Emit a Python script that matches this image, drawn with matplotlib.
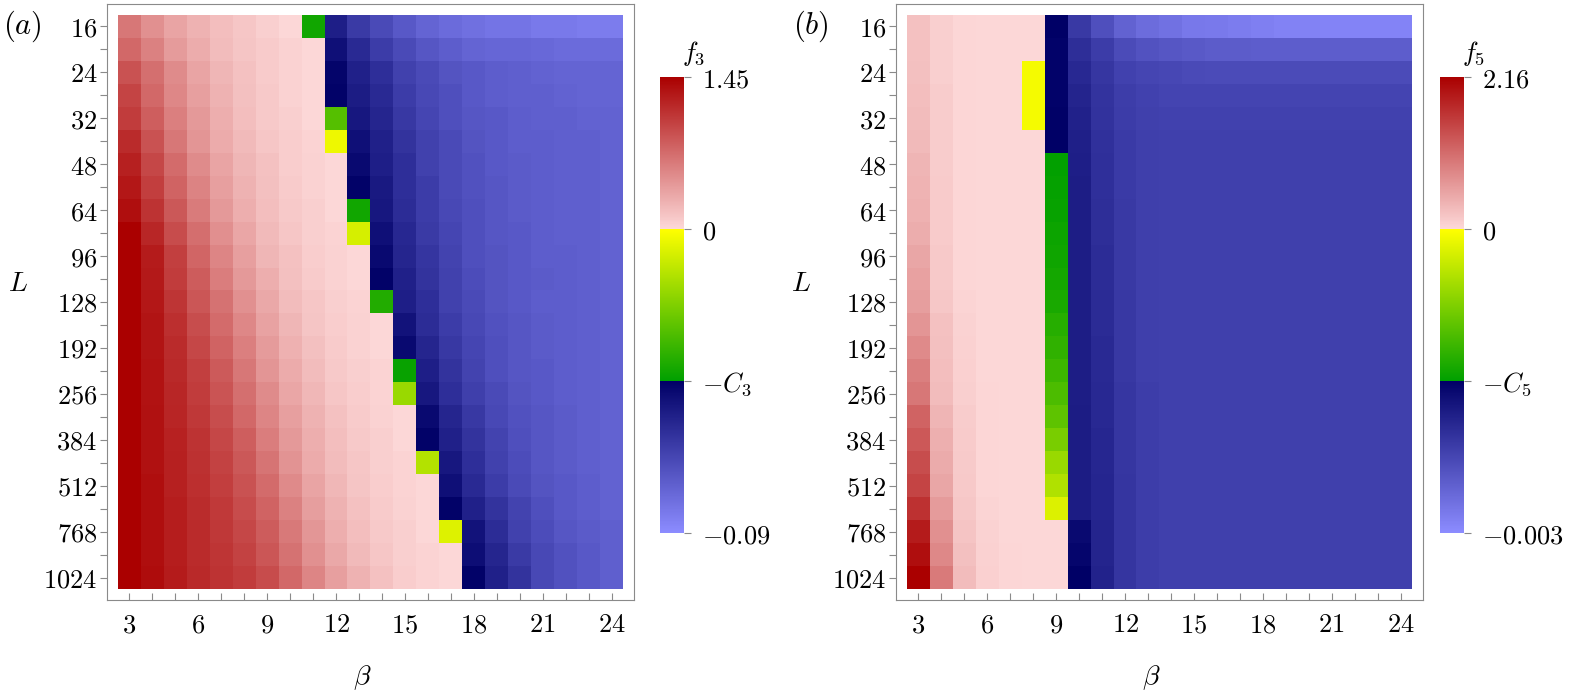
import numpy as np
import matplotlib
matplotlib.use("Agg")
import matplotlib.pyplot as plt
from matplotlib.colors import ListedColormap, FuncNorm, to_rgb

plt.rcParams['mathtext.fontset'] = 'cm'
plt.rcParams['font.family'] = 'DejaVu Serif'

# grid: beta along x, L along y (every row one L value)
beta = list(range(3, 25))
L_rows = [16, 20, 24, 28, 32, 40, 48, 56, 64, 80, 96, 112, 128,
          160, 192, 224, 256, 320, 384, 448, 512, 640, 768, 896, 1024]
L_labels = [16, 24, 32, 48, 64, 96, 128, 192, 256, 384, 512, 768, 1024]
beta_labels = [3, 6, 9, 12, 15, 18, 21, 24]

# colour scale limits (C3, C5 are only labels in the original)
f3_max, f3_min, C3 = 1.45, -0.09, 0.03
f5_max, f5_min, C5 = 2.16, -0.003, 0.001

f3 = [
    [0.65, 0.48, 0.35, 0.25, 0.17, 0.12, 0.06, 0.01, -0.028, -0.043, -0.055, -0.062, -0.068, -0.073, -0.076, -0.078, -0.080, -0.080, -0.082, -0.082, -0.083, -0.083],
    [0.75, 0.58, 0.41, 0.29, 0.19, 0.13, 0.09, 0.04, 0.01, -0.037, -0.048, -0.056, -0.062, -0.067, -0.070, -0.073, -0.074, -0.074, -0.075, -0.076, -0.076, -0.076],
    [0.90, 0.70, 0.51, 0.35, 0.23, 0.15, 0.09, 0.04, 0.01, -0.032, -0.044, -0.050, -0.058, -0.062, -0.066, -0.068, -0.070, -0.071, -0.072, -0.073, -0.073, -0.073],
    [0.99, 0.75, 0.54, 0.38, 0.25, 0.16, 0.10, 0.04, 0.01, -0.031, -0.042, -0.048, -0.056, -0.061, -0.064, -0.068, -0.070, -0.071, -0.071, -0.072, -0.073, -0.073],
    [1.04, 0.81, 0.59, 0.42, 0.28, 0.17, 0.10, 0.06, 0.01, -0.020, -0.040, -0.046, -0.054, -0.060, -0.064, -0.067, -0.068, -0.070, -0.071, -0.071, -0.072, -0.072],
    [1.16, 0.90, 0.65, 0.45, 0.30, 0.20, 0.12, 0.07, 0.03, -0.002, -0.037, -0.044, -0.052, -0.058, -0.062, -0.066, -0.068, -0.070, -0.070, -0.071, -0.071, -0.072],
    [1.23, 0.97, 0.73, 0.51, 0.35, 0.23, 0.15, 0.07, 0.04, 0.01, -0.034, -0.043, -0.050, -0.058, -0.062, -0.065, -0.068, -0.069, -0.070, -0.071, -0.071, -0.072],
    [1.29, 1.03, 0.78, 0.57, 0.38, 0.25, 0.16, 0.09, 0.04, 0.01, -0.031, -0.041, -0.050, -0.056, -0.062, -0.065, -0.067, -0.069, -0.070, -0.071, -0.071, -0.072],
    [1.35, 1.10, 0.86, 0.62, 0.42, 0.28, 0.17, 0.10, 0.06, 0.01, -0.028, -0.040, -0.049, -0.056, -0.061, -0.064, -0.067, -0.069, -0.070, -0.071, -0.071, -0.072],
    [1.45, 1.19, 0.94, 0.71, 0.49, 0.33, 0.20, 0.12, 0.06, 0.03, -0.005, -0.037, -0.047, -0.055, -0.060, -0.064, -0.067, -0.068, -0.070, -0.071, -0.071, -0.072],
    [1.45, 1.26, 1.02, 0.77, 0.55, 0.38, 0.23, 0.15, 0.07, 0.04, 0.01, -0.034, -0.046, -0.053, -0.059, -0.064, -0.066, -0.068, -0.070, -0.070, -0.071, -0.072],
    [1.45, 1.28, 1.04, 0.83, 0.61, 0.42, 0.28, 0.16, 0.09, 0.04, 0.01, -0.031, -0.044, -0.052, -0.058, -0.063, -0.066, -0.068, -0.069, -0.070, -0.071, -0.072],
    [1.45, 1.29, 1.09, 0.87, 0.68, 0.48, 0.32, 0.19, 0.12, 0.06, 0.03, -0.026, -0.043, -0.050, -0.058, -0.062, -0.066, -0.068, -0.070, -0.070, -0.071, -0.072],
    [1.45, 1.31, 1.13, 0.93, 0.73, 0.54, 0.36, 0.23, 0.13, 0.07, 0.04, 0.01, -0.038, -0.049, -0.056, -0.061, -0.065, -0.067, -0.069, -0.070, -0.071, -0.072],
    [1.45, 1.31, 1.16, 0.97, 0.78, 0.59, 0.41, 0.26, 0.16, 0.09, 0.04, 0.01, -0.034, -0.046, -0.054, -0.060, -0.064, -0.067, -0.069, -0.070, -0.071, -0.072],
    [1.45, 1.32, 1.17, 1.02, 0.84, 0.65, 0.45, 0.30, 0.19, 0.10, 0.06, 0.03, -0.029, -0.043, -0.052, -0.059, -0.064, -0.067, -0.068, -0.070, -0.071, -0.072],
    [1.45, 1.32, 1.19, 1.04, 0.88, 0.70, 0.51, 0.33, 0.22, 0.12, 0.07, 0.03, -0.012, -0.040, -0.050, -0.057, -0.062, -0.066, -0.068, -0.070, -0.071, -0.072],
    [1.45, 1.33, 1.20, 1.07, 0.93, 0.75, 0.55, 0.38, 0.25, 0.15, 0.09, 0.04, 0.01, -0.034, -0.046, -0.054, -0.061, -0.065, -0.067, -0.069, -0.071, -0.072],
    [1.45, 1.33, 1.22, 1.10, 0.97, 0.81, 0.61, 0.42, 0.28, 0.17, 0.10, 0.06, 0.01, -0.031, -0.044, -0.052, -0.059, -0.064, -0.067, -0.069, -0.071, -0.072],
    [1.45, 1.33, 1.23, 1.12, 1.00, 0.86, 0.67, 0.46, 0.30, 0.19, 0.12, 0.06, 0.03, -0.009, -0.040, -0.050, -0.058, -0.063, -0.067, -0.069, -0.071, -0.072],
    [1.45, 1.35, 1.23, 1.13, 1.03, 0.90, 0.73, 0.52, 0.35, 0.22, 0.13, 0.07, 0.03, 0.01, -0.037, -0.048, -0.056, -0.062, -0.066, -0.068, -0.070, -0.072],
    [1.45, 1.35, 1.25, 1.15, 1.06, 0.94, 0.78, 0.58, 0.39, 0.25, 0.15, 0.09, 0.04, 0.01, -0.031, -0.044, -0.052, -0.059, -0.064, -0.068, -0.070, -0.072],
    [1.45, 1.35, 1.25, 1.16, 1.07, 0.97, 0.83, 0.64, 0.44, 0.28, 0.17, 0.10, 0.06, 0.01, -0.004, -0.038, -0.049, -0.058, -0.063, -0.067, -0.069, -0.071],
    [1.45, 1.35, 1.25, 1.16, 1.09, 1.00, 0.87, 0.68, 0.48, 0.32, 0.20, 0.12, 0.06, 0.03, 0.01, -0.036, -0.046, -0.055, -0.061, -0.065, -0.068, -0.071],
    [1.45, 1.36, 1.26, 1.17, 1.10, 1.04, 0.94, 0.75, 0.55, 0.38, 0.25, 0.15, 0.07, 0.03, 0.01, -0.031, -0.044, -0.052, -0.061, -0.065, -0.068, -0.071],
]

f5 = [
    [0.22, 0.09, 0.02, 0.01, 0.01, 0.01, -0.00101, -0.00182, -0.00214, -0.00240, -0.00254, -0.00262, -0.00272, -0.00274, -0.00278, -0.00282, -0.00286, -0.00286, -0.00288, -0.00288, -0.00288, -0.00288],
    [0.22, 0.09, 0.02, 0.01, 0.01, 0.01, -0.00104, -0.00166, -0.00186, -0.00208, -0.00218, -0.00224, -0.00228, -0.00232, -0.00232, -0.00234, -0.00234, -0.00234, -0.00234, -0.00234, -0.00234, -0.00234],
    [0.24, 0.09, 0.02, 0.01, 0.01, -0.00004, -0.00104, -0.00158, -0.00178, -0.00194, -0.00200, -0.00202, -0.00206, -0.00208, -0.00208, -0.00208, -0.00208, -0.00208, -0.00208, -0.00208, -0.00208, -0.00208],
    [0.26, 0.11, 0.02, 0.01, 0.01, -0.00004, -0.00104, -0.00152, -0.00174, -0.00188, -0.00194, -0.00198, -0.00198, -0.00198, -0.00198, -0.00198, -0.00198, -0.00198, -0.00198, -0.00198, -0.00198, -0.00198],
    [0.28, 0.11, 0.02, 0.01, 0.01, -0.00004, -0.00102, -0.00148, -0.00172, -0.00186, -0.00192, -0.00194, -0.00194, -0.00194, -0.00194, -0.00194, -0.00194, -0.00194, -0.00194, -0.00194, -0.00194, -0.00194],
    [0.30, 0.11, 0.02, 0.01, 0.01, 0.01, -0.00101, -0.00146, -0.00170, -0.00184, -0.00190, -0.00192, -0.00192, -0.00192, -0.00192, -0.00192, -0.00192, -0.00192, -0.00192, -0.00192, -0.00192, -0.00192],
    [0.35, 0.11, 0.02, 0.01, 0.01, 0.01, -0.00099, -0.00144, -0.00168, -0.00184, -0.00190, -0.00192, -0.00192, -0.00192, -0.00192, -0.00192, -0.00192, -0.00192, -0.00192, -0.00192, -0.00192, -0.00192],
    [0.37, 0.13, 0.02, 0.01, 0.01, 0.01, -0.00098, -0.00142, -0.00168, -0.00184, -0.00190, -0.00192, -0.00192, -0.00192, -0.00192, -0.00192, -0.00192, -0.00192, -0.00192, -0.00192, -0.00192, -0.00192],
    [0.39, 0.13, 0.02, 0.01, 0.01, 0.01, -0.00097, -0.00142, -0.00166, -0.00182, -0.00190, -0.00192, -0.00192, -0.00192, -0.00192, -0.00192, -0.00192, -0.00192, -0.00192, -0.00192, -0.00192, -0.00192],
    [0.43, 0.13, 0.02, 0.01, 0.01, 0.01, -0.00095, -0.00142, -0.00166, -0.00182, -0.00190, -0.00192, -0.00192, -0.00192, -0.00192, -0.00192, -0.00192, -0.00192, -0.00192, -0.00192, -0.00192, -0.00192],
    [0.50, 0.15, 0.02, 0.01, 0.01, 0.01, -0.00094, -0.00142, -0.00164, -0.00182, -0.00190, -0.00192, -0.00192, -0.00192, -0.00192, -0.00192, -0.00192, -0.00192, -0.00192, -0.00192, -0.00192, -0.00192],
    [0.54, 0.15, 0.02, 0.01, 0.01, 0.01, -0.00092, -0.00142, -0.00164, -0.00182, -0.00190, -0.00192, -0.00192, -0.00192, -0.00192, -0.00192, -0.00192, -0.00192, -0.00192, -0.00192, -0.00192, -0.00192],
    [0.58, 0.17, 0.04, 0.01, 0.01, 0.01, -0.00090, -0.00142, -0.00162, -0.00180, -0.00190, -0.00192, -0.00192, -0.00192, -0.00192, -0.00192, -0.00192, -0.00192, -0.00192, -0.00192, -0.00192, -0.00192],
    [0.67, 0.22, 0.06, 0.01, 0.01, 0.01, -0.00085, -0.00142, -0.00162, -0.00180, -0.00190, -0.00192, -0.00192, -0.00192, -0.00192, -0.00192, -0.00192, -0.00192, -0.00192, -0.00192, -0.00192, -0.00192],
    [0.78, 0.24, 0.07, 0.01, 0.01, 0.01, -0.00081, -0.00142, -0.00160, -0.00180, -0.00190, -0.00192, -0.00192, -0.00192, -0.00192, -0.00192, -0.00192, -0.00192, -0.00192, -0.00192, -0.00192, -0.00192],
    [0.89, 0.26, 0.08, 0.01, 0.01, 0.01, -0.00076, -0.00142, -0.00160, -0.00180, -0.00190, -0.00192, -0.00192, -0.00192, -0.00192, -0.00192, -0.00192, -0.00192, -0.00192, -0.00192, -0.00192, -0.00192],
    [0.97, 0.28, 0.09, 0.02, 0.01, 0.01, -0.00070, -0.00142, -0.00158, -0.00178, -0.00188, -0.00192, -0.00192, -0.00192, -0.00192, -0.00192, -0.00192, -0.00192, -0.00192, -0.00192, -0.00192, -0.00192],
    [1.17, 0.35, 0.11, 0.02, 0.01, 0.01, -0.00063, -0.00140, -0.00158, -0.00178, -0.00188, -0.00192, -0.00192, -0.00192, -0.00192, -0.00192, -0.00192, -0.00192, -0.00192, -0.00192, -0.00192, -0.00192],
    [1.27, 0.41, 0.13, 0.02, 0.01, 0.01, -0.00052, -0.00140, -0.00156, -0.00178, -0.00188, -0.00192, -0.00192, -0.00192, -0.00192, -0.00192, -0.00192, -0.00192, -0.00192, -0.00192, -0.00192, -0.00192],
    [1.38, 0.45, 0.14, 0.02, 0.01, 0.01, -0.00040, -0.00140, -0.00156, -0.00178, -0.00188, -0.00192, -0.00192, -0.00192, -0.00192, -0.00192, -0.00192, -0.00192, -0.00192, -0.00192, -0.00192, -0.00192],
    [1.47, 0.50, 0.15, 0.02, 0.01, 0.01, -0.00031, -0.00140, -0.00154, -0.00176, -0.00188, -0.00192, -0.00192, -0.00192, -0.00192, -0.00192, -0.00192, -0.00192, -0.00192, -0.00192, -0.00192, -0.00192],
    [1.66, 0.60, 0.17, 0.04, 0.01, 0.01, -0.00014, -0.00140, -0.00154, -0.00176, -0.00188, -0.00192, -0.00192, -0.00192, -0.00192, -0.00192, -0.00192, -0.00192, -0.00192, -0.00192, -0.00192, -0.00192],
    [1.88, 0.71, 0.20, 0.06, 0.01, 0.01, 0.01, -0.00114, -0.00152, -0.00176, -0.00188, -0.00192, -0.00192, -0.00192, -0.00192, -0.00192, -0.00192, -0.00192, -0.00192, -0.00192, -0.00192, -0.00192],
    [2.01, 0.80, 0.24, 0.07, 0.02, 0.01, 0.01, -0.00108, -0.00152, -0.00176, -0.00188, -0.00192, -0.00192, -0.00192, -0.00192, -0.00192, -0.00192, -0.00192, -0.00192, -0.00192, -0.00192, -0.00192],
    [2.16, 0.93, 0.28, 0.08, 0.02, 0.01, 0.01, -0.00101, -0.00150, -0.00176, -0.00188, -0.00192, -0.00192, -0.00192, -0.00192, -0.00192, -0.00192, -0.00192, -0.00192, -0.00192, -0.00192, -0.00192],
]


def ramp(c0, c1, n=256):
    a, b = np.array(to_rgb(c0)), np.array(to_rgb(c1))
    w = np.linspace(0, 1, n)[:, None]
    return a + (b - a) * w


# three bands: blue below -C, green->yellow between -C and 0, pink->red above 0
cmap = ListedColormap(np.vstack([ramp('#8c8cff', '#000066'),
                                 ramp('#00a000', '#ffff00'),
                                 ramp('#fdd8d8', '#aa0000')]))


def make_norm(vmin, c, vmax):
    xp = [vmin, -c, 0.0, vmax]
    fp = [0.0, 1 / 3, 2 / 3, 1.0]
    return FuncNorm((lambda x: np.interp(x, xp, fp),
                     lambda y: np.interp(y, fp, xp)), vmin=vmin, vmax=vmax)


W, H = 1578, 693
fig = plt.figure(figsize=(W / 100, H / 100), dpi=100)
grey = '#8a8a8a'
fs = 19


def panel(x0, cbx, data, vmin, c, vmax, letter, fname, labels, ylab_x):
    ax = fig.add_axes([x0 / W, 1 - 600 / H, 527 / W, 596 / H])
    norm = make_norm(vmin, c, vmax)
    im = ax.imshow(np.array(data), cmap=cmap, norm=norm, aspect='auto',
                   interpolation='nearest',
                   extent=(beta[0] - 0.5, beta[-1] + 0.5, len(L_rows) - 0.5, -0.5))
    ax.set_xlim(beta[0] - 0.98, beta[-1] + 0.98)
    ax.set_ylim(len(L_rows) - 0.02, -0.98)

    ax.set_xticks(beta_labels)
    ax.set_xticks(beta, minor=True)
    ax.set_xticklabels([f'${b}$' for b in beta_labels])
    ax.set_yticks([L_rows.index(v) for v in L_labels])
    ax.set_yticks(range(len(L_rows)), minor=True)
    ax.set_yticklabels([f'${v}$' for v in L_labels])
    ax.tick_params(axis='x', which='both', direction='in', length=5, width=0.8,
                   color=grey, pad=9, labelsize=fs)
    ax.tick_params(axis='y', which='both', direction='out', length=5, width=0.8,
                   color=grey, pad=2, labelsize=fs)
    for s in ax.spines.values():
        s.set_color(grey)
        s.set_linewidth(0.8)

    ax.set_xlabel(r'$\beta$', fontsize=fs + 1)
    ax.xaxis.set_label_coords(0.485, -0.106)
    ax.set_ylabel(r'$L$', fontsize=fs + 1, rotation=0)
    ax.yaxis.set_label_coords(ylab_x, 0.508)

    cax = fig.add_axes([cbx / W, 1 - 533 / H, 24 / W, 456 / H])
    cb = fig.colorbar(im, cax=cax, ticks=[vmin, -c, 0, vmax])
    cb.set_ticklabels(labels)
    cb.outline.set_visible(False)
    cb.minorticks_off()
    cax.tick_params(length=5, width=0.8, color=grey, pad=8, labelsize=fs)

    fig.text((x0 - 85) / W, 1 - 26 / H, letter, ha='center', va='center', fontsize=fs + 3)
    fig.text((cbx + 34) / W, 1 - 54 / H, fname, ha='center', va='center', fontsize=fs)


panel(107, 660, f3, f3_min, C3, f3_max, '$(a)$', '$f_3$',
      ['$-0.09$', '$-C_3$', '$0$', '$1.45$'], -0.169)
panel(896, 1440, f5, f5_min, C5, f5_max, '$(b)$', '$f_5$',
      ['$-0.003$', '$-C_5$', '$0$', '$2.16$'], -0.180)

fig.savefig('out.png', dpi=100)
